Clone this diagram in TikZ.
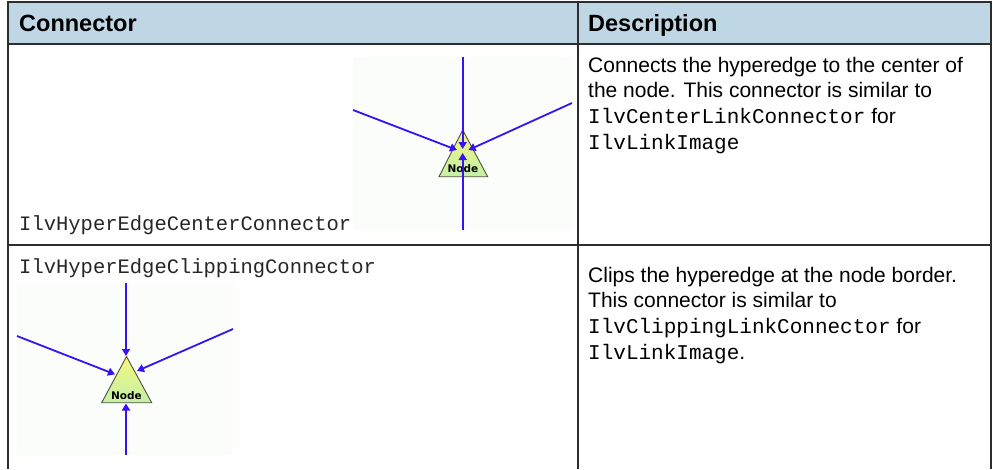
\documentclass[tikz,border=0pt]{standalone}
\usepackage{fontspec}
\setmainfont{Liberation Sans}
\newfontfamily\codefont{Liberation Mono}
\newfontfamily\tagfont{DejaVu Sans}
\usetikzlibrary{arrows.meta}

\definecolor{headbg}{RGB}{191,214,229}
\definecolor{rulecol}{RGB}{45,45,45}
\definecolor{canvasbg}{RGB}{251,253,251}
\definecolor{edgeblue}{RGB}{58,16,245}
\definecolor{triTop}{RGB}{244,247,120}
\definecolor{triBot}{RGB}{196,240,170}
\definecolor{triLine}{RGB}{80,80,60}

\tikzset{
  rule/.style={draw=rulecol, line width=2.6pt},
  hdr/.style={inner sep=0pt, anchor=base west, font=\fontsize{23.5}{28}\selectfont\bfseries},
  desc/.style={inner sep=0pt, anchor=base west, font=\fontsize{21}{26}\selectfont},
  code/.style={inner sep=0pt, anchor=base west, text=black!85, font=\fontsize{20.5}{26}\selectfont\codefont},
  hyper/.style={draw=edgeblue, line width=1.8pt},
  hyperarrow/.style={hyper, -{Triangle[length=7pt,width=8pt]}},
  tri/.style={draw=triLine, line width=0.9pt, top color=triTop, bottom color=triBot},
  nodelabel/.style={inner sep=0pt, font=\fontsize{10.5}{12}\selectfont\tagfont\bfseries}
}

\begin{document}
\begin{tikzpicture}[x=1pt,y=-1pt]
\useasboundingbox (0,0) rectangle (994,469);
\fill[white] (0,0) rectangle (994,469);

% header band
\fill[headbg] (8,2) rectangle (991,44);

% canvases of the two sample drawings
\fill[canvasbg] (353,57) rectangle (572,230);
\fill[canvasbg] (17,283) rectangle (233,455);

% table rules
\draw[rule] (8,2) -- (991,2);
\draw[rule] (8,44) -- (991,44);
\draw[rule] (8,245) -- (991,245);
\draw[rule] (8,1) -- (8,469);
\draw[rule] (578,1) -- (578,469);
\draw[rule] (991,1) -- (991,469);

% header labels
\node[hdr] (hconn) at (19,31) {Connector};
\node[hdr] (hdesc) at (588,31) {Description};

% first row
\node[code] (nameA) at (19,230.5) {IlvHyperEdgeCenterConnector};
\node[desc] (dA1) at (588,72) {Connects the hyperedge to the center of};
\node[desc] (dA2) at (588,97.5) {the node. This connector is similar to};
\node[desc] (dA3) at (588,123) {{\codefont IlvCenterLinkConnector} for};
\node[desc] (dA4) at (588,149) {{\codefont IlvLinkImage}};

% second row
\node[code] (nameB) at (19,273) {IlvHyperEdgeClippingConnector};
\node[desc] (dB1) at (588,282) {Clips the hyperedge at the node border.};
\node[desc] (dB2) at (588,307.5) {This connector is similar to};
\node[desc] (dB3) at (588,333) {{\codefont IlvClippingLinkConnector} for};
\node[desc] (dB4) at (588,359) {{\codefont IlvLinkImage}.};

% ---- center connector sample ----
\path[tri] (462.7,130) -- (439,176.7) -- (487.7,176.7) -- cycle;
\node[nodelabel] (nodeA) at (463,169) {Node};
\coordinate (aTop) at (462.7,57);
\coordinate (aLeft) at (353,110);
\coordinate (aRight) at (572,103);
\coordinate (aBot) at (462.7,230);
\coordinate (aTipT) at (462.7,149);
\coordinate (aTipL) at (457,150);
\coordinate (aTipR) at (468.5,150);
\coordinate (aTipB) at (462.7,153);
\draw[hyperarrow] (aTop) -- (aTipT);
\draw[hyperarrow] (aLeft) -- (aTipL);
\draw[hyperarrow] (aRight) -- (aTipR);
\draw[hyperarrow] (aBot) -- (aTipB);

% ---- clipping connector sample ----
\path[tri] (126.5,356.5) -- (101.7,402.7) -- (151.7,402.7) -- cycle;
\node[nodelabel] (nodeB) at (126.5,396) {Node};
\coordinate (bTop) at (126,283);
\coordinate (bLeft) at (17,336);
\coordinate (bRight) at (233,329);
\coordinate (bBot) at (126,455);
\coordinate (bTipT) at (126,356);
\coordinate (bTipL) at (115,374.3);
\coordinate (bTipR) at (137,371);
\coordinate (bTipB) at (126,403.5);
\draw[hyperarrow] (bTop) -- (bTipT);
\draw[hyperarrow] (bLeft) -- (bTipL);
\draw[hyperarrow] (bRight) -- (bTipR);
\draw[hyperarrow] (bBot) -- (bTipB);
\end{tikzpicture}
\end{document}
